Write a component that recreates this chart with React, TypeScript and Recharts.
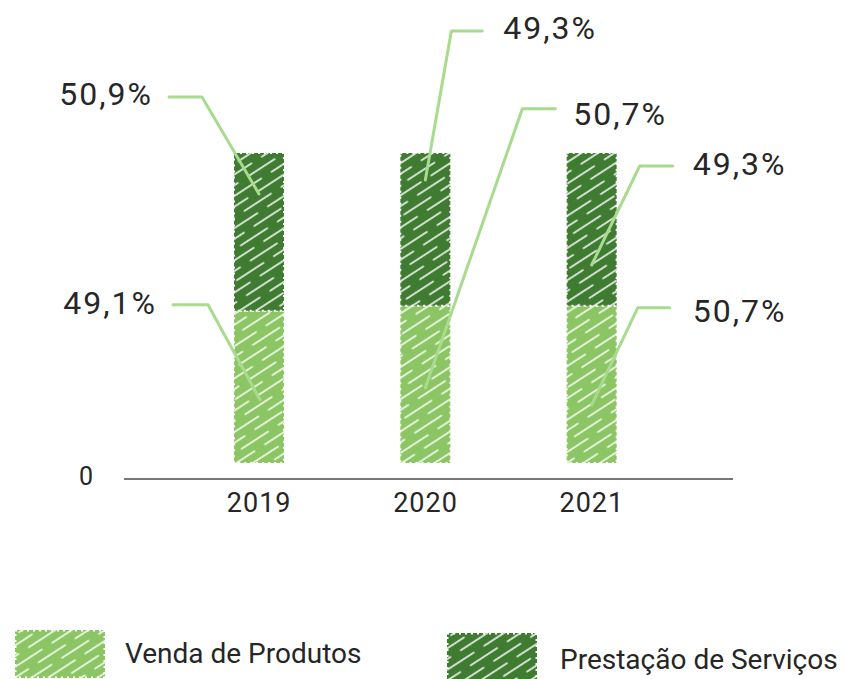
import { Bar, BarChart, LabelList, Legend, ReferenceLine, XAxis, YAxis } from "recharts"

// valores (%)
const years = ["2019", "2020", "2021"]
const vendaProdutos = [49.1, 50.7, 50.7]
const prestacaoServicos = [50.9, 49.3, 49.3]

const data = years.map((year, i) => ({
  year,
  produtos: vendaProdutos[i],
  servicos: prestacaoServicos[i],
}))

const LIGHT = "#8cc664"
const DARK = "#3f7b31"
const LEADER = "#a8db8e"
const TEXT = "#262626"
const FONT = "Roboto, sans-serif"

// posição das chamadas (relativas ao centro da barra e ao topo do segmento)
const calloutsServicos = [
  { anchor: [0, 41], elbow: [-57, -56], end: [-90, -56], text: [-106, -59], side: "end" },
  { anchor: [0, 27], elbow: [26, -122], end: [57, -122], text: [78, -125], side: "start" },
  { anchor: [0, 112], elbow: [48, 13], end: [81, 13], text: [101, 11], side: "start" },
]
const calloutsProdutos = [
  { anchor: [1, 89], elbow: [-51, -6], end: [-86, -6], text: [-102, -8], side: "end" },
  { anchor: [0, 82], elbow: [97, -197], end: [130, -197], text: [148, -192], side: "start" },
  { anchor: [0, 99], elbow: [46, 2], end: [78, 2], text: [101, 5], side: "start" },
]

const fmt = (v: number) => `${v.toFixed(1).replace(".", ",")}%`

// rabisco: traços brancos diagonais sobre o verde
function Hatch({ id, color }: { id: string; color: string }) {
  return (
    <pattern id={id} patternUnits="userSpaceOnUse" width={44} height={18} patternTransform="rotate(-33)">
      <rect width={44} height={18} fill={color} />
      <line x1={2} y1={4} x2={34} y2={4} stroke="#fff" strokeWidth={1.5} strokeLinecap="round" />
      <line x1={24} y1={13} x2={44} y2={13} stroke="#fff" strokeWidth={1.3} strokeLinecap="round" />
      <line x1={0} y1={13} x2={12} y2={13} stroke="#fff" strokeWidth={1.3} strokeLinecap="round" />
    </pattern>
  )
}

function makeCallout(layout: any[]) {
  return (props: any) => {
    const vb = props.viewBox || props
    const x = vb.x ?? props.x
    const y = vb.y ?? props.y
    const width = vb.width ?? props.width
    const c = layout[props.index]
    if (!c || x == null) return null
    const cx = x + width / 2
    const pts = [c.anchor, c.elbow, c.end].map(([dx, dy]) => `${cx + dx},${y + dy}`).join(" ")
    return (
      <g>
        <polyline points={pts} fill="none" stroke={LEADER} strokeWidth={3} strokeLinecap="round" strokeLinejoin="round" />
        <text
          x={cx + c.text[0]}
          y={y + c.text[1]}
          textAnchor={c.side}
          dominantBaseline="central"
          fontFamily={FONT}
          fontSize={32}
          letterSpacing={2}
          fill={TEXT}
        >
          {fmt(Number(props.value))}
        </text>
      </g>
    )
  }
}

function Swatch({ id, color }: { id: string; color: string }) {
  return (
    <svg width={90} height={48}>
      <defs>
        <Hatch id={id} color={color} />
      </defs>
      <rect width={90} height={48} fill={`url(#${id})`} stroke="#fff" strokeWidth={3} strokeDasharray="2 4" />
    </svg>
  )
}

function LegendContent() {
  const txt = { position: "absolute" as const, fontFamily: FONT, fontSize: 28, color: TEXT, lineHeight: "32px" }
  return (
    <div style={{ position: "relative", width: 845, height: 59 }}>
      <div style={{ position: "absolute", left: 15, top: 10 }}>
        <Swatch id="legLight" color={LIGHT} />
      </div>
      <div style={{ ...txt, left: 125, top: 18 }}>Venda de Produtos</div>
      <div style={{ position: "absolute", left: 447, top: 13 }}>
        <Swatch id="legDark" color={DARK} />
      </div>
      <div style={{ ...txt, left: 560, top: 24 }}>Prestação de Serviços</div>
    </div>
  )
}

export default function App() {
  return (
    <div style={{ position: "absolute", left: 0, top: 0, background: "#fff" }}>
      <BarChart
        width={845}
        height={679}
        data={data}
        margin={{ top: 153, right: 112, left: 124, bottom: 160 }}
        barSize={50}
      >
        <defs>
          <Hatch id="hatchLight" color={LIGHT} />
          <Hatch id="hatchDark" color={DARK} />
        </defs>
        <XAxis
          dataKey="year"
          axisLine={false}
          tickLine={false}
          height={40}
          tickMargin={8}
          padding={{ left: 52, right: 58 }}
          tick={{ fill: TEXT, fontSize: 27, fontFamily: FONT, letterSpacing: 1 }}
        />
        <YAxis hide domain={[-5.16, 100]} />
        <ReferenceLine
          y={-5.16}
          stroke="#777"
          strokeWidth={2}
          label={{ value: "0", position: "left", offset: 31, fill: TEXT, fontSize: 25, fontFamily: FONT, dy: -3 }}
        />
        <Bar dataKey="produtos" stackId="a" fill="url(#hatchLight)" stroke="#fff" strokeWidth={2} strokeDasharray="2 4" isAnimationActive={false}>
          <LabelList dataKey="produtos" content={makeCallout(calloutsProdutos)} />
        </Bar>
        <Bar dataKey="servicos" stackId="a" fill="url(#hatchDark)" stroke="#fff" strokeWidth={2} strokeDasharray="2 4" isAnimationActive={false}>
          <LabelList dataKey="servicos" content={makeCallout(calloutsServicos)} />
        </Bar>
        <Legend
          layout="horizontal"
          verticalAlign="middle"
          align="center"
          wrapperStyle={{ left: 0, top: 620, width: 845, height: 59 }}
          content={() => <LegendContent />}
        />
      </BarChart>
    </div>
  )
}
